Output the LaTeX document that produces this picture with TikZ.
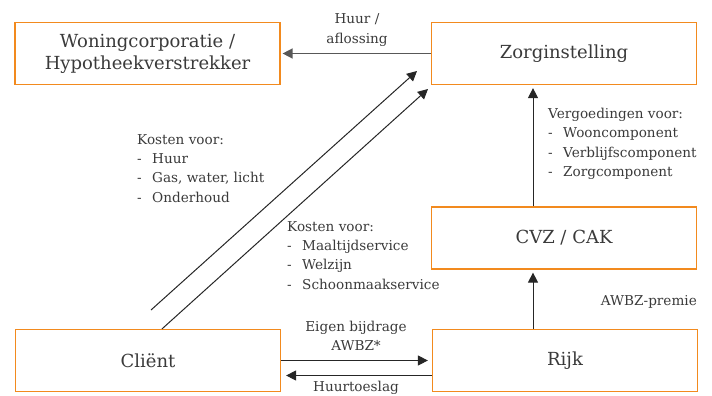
\documentclass[tikz,border=0pt]{standalone}
\usepackage{fontspec}
\setmainfont{DejaVu Serif}
\usetikzlibrary{arrows.meta,positioning}
\definecolor{boxorange}{HTML}{F28A1E}
\definecolor{txtgray}{HTML}{3A3A3A}
\newcommand{\itm}{\makebox[15pt][l]{-}}

\begin{document}
\begin{tikzpicture}[x=1pt,y=-1pt,
    box/.style={draw=boxorange,line width=1.2pt,minimum width=265pt,minimum height=62pt,
      text=txtgray,font=\fontsize{18}{22}\selectfont,align=center,inner sep=0pt},
    lbl/.style={text=txtgray,font=\fontsize{13.6}{19.3}\selectfont,align=left,inner sep=0pt},
    arr/.style={-{Triangle[length=10pt,width=10pt]},line width=1pt,draw=black!85}]
  \useasboundingbox (0,0) rectangle (712,396);

  % boxes
  \node[box] (woning) at (147.5,53.5) {Woningcorporatie /\\Hypotheekverstrekker};
  \node[box] (zorg) at (564,53.5) {Zorginstelling};
  \node[box] (cvz) at (564,238) {CVZ / CAK};
  \node[box] (client) at (148,360.5) {Cliënt};
  \node[box] (rijk) at (565,360.5) {Rijk};

  % arrows
  \draw[arr,draw=txtgray!85,line width=1.5pt,shorten >=2pt] (zorg.west) -- (woning.east);
  \draw[arr,shorten >=3pt] ([xshift=-31pt]cvz.north) -- ([xshift=-31pt]zorg.south);
  \draw[arr,shorten >=3pt] ([xshift=-32pt]rijk.north) -- ([xshift=-31pt]cvz.south);
  \draw[arr,shorten >=4pt] (client.east) -- (rijk.west);
  \draw[arr,shorten >=5pt] ([yshift=-15pt]rijk.west) -- ([yshift=-15pt]client.east);

  \coordinate (d1s) at (151,310);
  \coordinate (d1e) at (417,71);
  \coordinate (d2e) at (428,89);
  \draw[arr] (d1s) -- (d1e);
  \draw[arr] ([xshift=14pt]client.north) -- (d2e);

  % labels
  \node[lbl,align=center] (huur) at (357,30) {Huur /\\aflossing};
  \node[lbl,align=center] (eigen) at (356,336) {Eigen bijdrage\\AWBZ*};
  \node[lbl,anchor=base] (toeslag) at (356,391) {Huurtoeslag};
  \node[lbl,anchor=north west] (kosten1) at (137,134)
    {Kosten voor:\\\itm Huur\\\itm Gas, water, licht\\\itm Onderhoud};
  \node[lbl,anchor=north west] (kosten2) at (287,221)
    {Kosten voor:\\\itm Maaltijdservice\\\itm Welzijn\\\itm Schoonmaakservice};
  \node[lbl,anchor=north west] (vergoed) at (548,108)
    {Vergoedingen voor:\\\itm Wooncomponent\\\itm Verblijfscomponent\\\itm Zorgcomponent};
  \node[lbl,anchor=east] (premie) at (697,302) {AWBZ-premie};
\end{tikzpicture}
\end{document}
